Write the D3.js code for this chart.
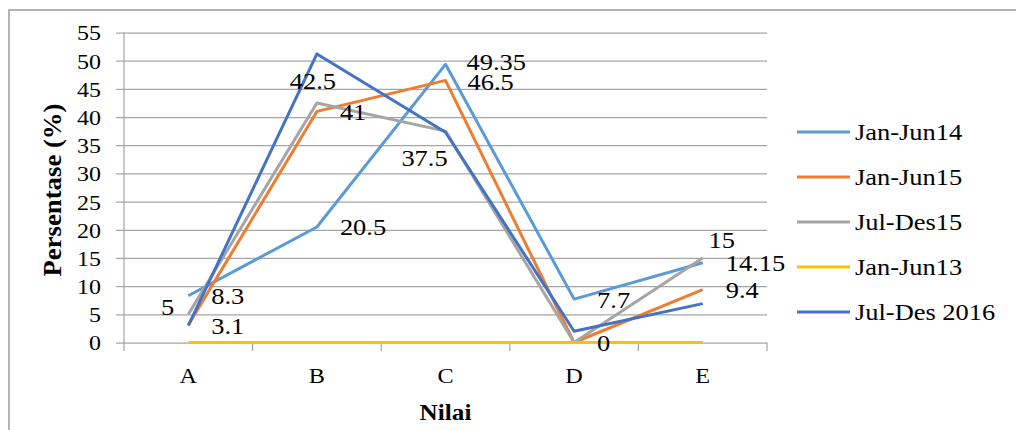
<!DOCTYPE html>
<html><head><meta charset="utf-8">
<script src="https://cdn.jsdelivr.net/npm/d3@7"></script>
<style>
body{margin:0;background:#fff}
svg text{font-family:"Liberation Serif","Times New Roman",Times,serif;fill:#000}
</style>
</head><body>
<svg id="c" width="1016" height="430"></svg>
<script>
// ---- data ----
const categories = ["A", "B", "C", "D", "E"];
const seriesNames = ["Jan-Jun14", "Jan-Jun15", "Jul-Des15", "Jan-Jun13", "Jul-Des 2016"];
const janJun14 = [8.3, 20.5, 49.35, 7.7, 14.15];
const janJun15 = [3.1, 41, 46.5, 0, 9.4];
const julDes15 = [5, 42.5, 37.5, 0, 15];
const janJun13 = [0, 0, 0, 0, 0];
const julDes2016 = [3, 51.2, 37.3, 2, 6.9];
const yTickValues = [0, 5, 10, 15, 20, 25, 30, 35, 40, 45, 50, 55];
const xTitle = "Nilai";
const yTitle = "Persentase (%)";
// which points carry a data label (per series)
const labelShown = [
  [true, true, true, true, true],
  [true, true, true, true, true],
  [true, true, true, false, true],
  [false, false, false, false, false],
  [false, false, false, false, false]
];

// ---- styling / layout ----
const FONT = '"Liberation Serif","Times New Roman",Times,serif';
const colors = ["#5B9BD5", "#ED7D31", "#A5A5A5", "#FFC000", "#4472C4"];
// label placement relative to point: [dx, dy, anchor]
const R = [23, 8.5, "start"];
const labelPlace = [
  [R, R, [21, 6, "start"], R, R],
  [R, R, [22, 9.5, "start"], R, R],
  [[-14, 1, "end"], [-4, -14, "middle"], [-21, 35, "middle"], R, [19, -10, "middle"]],
  [R, R, R, R, R],
  [R, R, R, R, R]
];
const allSeries = [janJun14, janJun15, julDes15, janJun13, julDes2016];

const svg = d3.select("#c");
const plotL = 124, plotR = 767, plotT = 32.5, plotB = 342.5;

const x = d3.scaleBand().domain(categories).range([plotL, plotR]);
const cx = c => x(c) + x.bandwidth() / 2;
const y = d3.scaleLinear().domain([0, 55]).range([plotB, plotT]);

// border
svg.append("rect").attr("x", 9).attr("y", 10).attr("width", 1200).attr("height", 600)
  .attr("fill", "none").attr("stroke", "#9a9a9a").attr("stroke-width", 1.5);

// y axis with gridlines
const yAxis = svg.append("g").attr("transform", `translate(116,0)`)
  .call(d3.axisLeft(y).tickValues(yTickValues).tickSize(-(plotR - 116)).tickPadding(15));
yAxis.attr("font-family", FONT);
yAxis.select(".domain").remove();
yAxis.selectAll(".tick line").attr("stroke", "#a6a6a6").attr("stroke-width", 1.25);
yAxis.selectAll(".tick text").attr("font-size", 22).style("font-family", FONT)
  .each(function () {
    const t = d3.select(this);
    const tx = +t.attr("x");
    t.attr("x", 0).attr("transform", `translate(${tx},0) scale(1.09,1)`).attr("dy", "0.34em");
  });

// vertical axis line
svg.append("line").attr("x1", plotL).attr("x2", plotL).attr("y1", plotT).attr("y2", plotB + 8.5)
  .attr("stroke", "#a6a6a6").attr("stroke-width", 1.25);

// x axis: category labels
const xAxis = svg.append("g").attr("transform", `translate(0,${plotB})`)
  .call(d3.axisBottom(x).tickSize(0).tickPadding(25));
xAxis.attr("font-family", FONT);
xAxis.select(".domain").remove();
xAxis.selectAll(".tick text").attr("font-size", 22).style("font-family", FONT)
  .each(function () {
    const t = d3.select(this);
    const ty = +t.attr("y");
    t.attr("y", 0).attr("transform", `translate(0,${ty}) scale(1.1,1)`);
  });
// boundary tick marks
const bounds = categories.map(c => x(c)).concat([x(categories[categories.length - 1]) + x.bandwidth()]);
svg.append("g").selectAll("line").data(bounds.slice(1)).join("line")
  .attr("x1", d => d).attr("x2", d => d).attr("y1", plotB).attr("y2", plotB + 8.5)
  .attr("stroke", "#a6a6a6").attr("stroke-width", 1.25);

// lines
const line = d3.line().x((d, i) => cx(categories[i])).y(d => y(d));
allSeries.forEach((s, k) => {
  svg.append("path").datum(s).attr("d", line).attr("fill", "none")
    .attr("stroke", colors[k]).attr("stroke-width", 3)
    .attr("stroke-linejoin", "round").attr("stroke-linecap", "butt");
});

// data labels
allSeries.forEach((s, k) => {
  s.forEach((v, i) => {
    if (!labelShown[k][i]) return;
    const [dx, dy, anchor] = labelPlace[k][i];
    svg.append("text")
      .attr("transform", `translate(${cx(categories[i]) + dx},${y(v) + dy}) scale(1.1,1)`)
      .attr("text-anchor", anchor).attr("font-size", 24).style("font-family", FONT).text(String(v));
  });
});

// axis titles
svg.append("text").attr("transform", `translate(${cx("C")},420) scale(1.05,1)`)
  .attr("text-anchor", "middle").attr("font-size", 24).attr("font-weight", "bold")
  .style("font-family", FONT).text(xTitle);
svg.append("text").attr("transform", `translate(61,190) rotate(-90) scale(1.07,1)`)
  .attr("text-anchor", "middle").attr("font-size", 25).attr("font-weight", "bold")
  .style("font-family", FONT).text(yTitle);

// legend
const legY = d3.scalePoint().domain(seriesNames).range([132, 312]);
const leg = svg.append("g").selectAll("g").data(seriesNames).join("g")
  .attr("transform", d => `translate(797,${legY(d)})`);
leg.append("line").attr("x1", 0).attr("x2", 53).attr("y1", 0).attr("y2", 0)
  .attr("stroke", (d, i) => colors[i]).attr("stroke-width", 3);
leg.append("text").attr("transform", "translate(58,8) scale(1.15,1)")
  .attr("font-size", 23).style("font-family", FONT).text(d => d);
</script>
</body></html>
